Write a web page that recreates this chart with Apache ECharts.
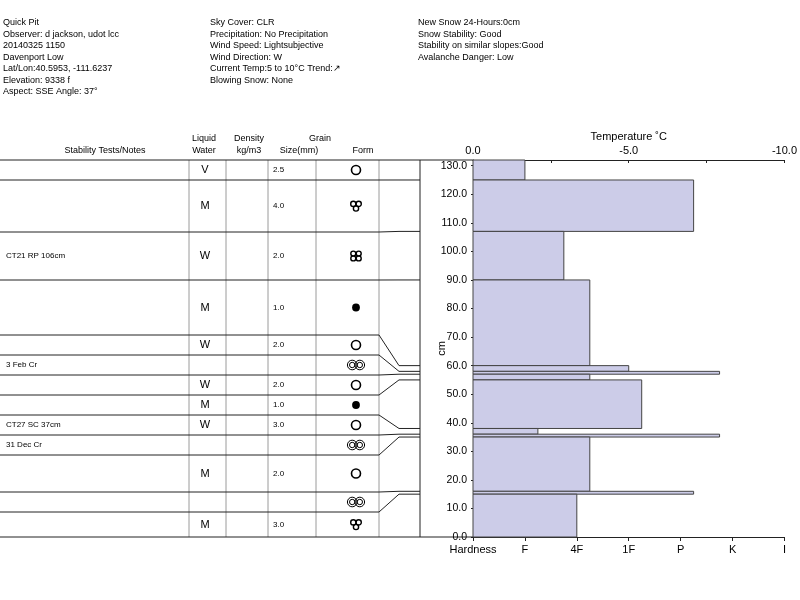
<!DOCTYPE html>
<html><head><meta charset="utf-8">
<script src="https://cdn.jsdelivr.net/npm/echarts@6.0.0/dist/echarts.min.js"></script>
<style>html,body{margin:0;padding:0;background:#fff}#c{width:800px;height:600px}</style>
</head><body><div id="c"></div>
<script>
// ---------- data ----------
const infoCol1 = ['Quick Pit', 'Observer: d jackson, udot lcc', '20140325 1150', 'Davenport Low',
  'Lat/Lon:40.5953, -111.6237', 'Elevation: 9338 f', 'Aspect: SSE Angle: 37°'];
const infoCol2 = ['Sky Cover: CLR', 'Precipitation: No Precipitation', 'Wind Speed: Lightsubjective',
  'Wind Direction: W', 'Current Temp:5 to 10°C Trend:↗', 'Blowing Snow: None'];
const infoCol3 = ['New Snow 24-Hours:0cm', 'Snow Stability: Good', 'Stability on similar slopes:Good',
  'Avalanche Danger: Low'];

const pitDepth = 132;
const layerTop    = [132, 125, 107, 90, 60, 58, 57, 55, 38, 36, 35, 16, 15];
const layerBottom = [125, 107, 90, 60, 58, 57, 55, 38, 36, 35, 16, 15, 0];
const hardness    = [1, 4.25, 1.75, 2.25, 3, 4.75, 2.25, 3.25, 1.25, 4.75, 2.25, 4.25, 2];
const hardnessLabels = ['Hardness', 'F', '4F', '1F', 'P', 'K', 'I'];
const depthTicks = [0, 10, 20, 30, 40, 50, 60, 70, 80, 90, 100, 110, 120, 130];
const tempMin = -10, tempMax = 0, tempStep = 2.5;

const notes       = ['', '', 'CT21 RP 106cm', '', '', '3 Feb Cr', '', '', 'CT27 SC 37cm', '31 Dec Cr', '', '', ''];
const liquidWater = ['V', 'M', 'W', 'M', 'W', '', 'W', 'M', 'W', '', 'M', '', 'M'];
const grainSize   = ['2.5', '4.0', '2.0', '1.0', '2.0', '', '2.0', '1.0', '3.0', '', '2.0', '', '3.0'];
const grainForm   = ['MF', 'MFcl', 'MFcl4', 'RG', 'MF', 'MFcr', 'MF', 'RG', 'MF', 'MFcr', 'MF', 'MFcr', 'MFcl'];

// ---------- layout ----------
const FONT = '"Liberation Sans", Arial, Helvetica, sans-serif';
const rowY = [160, 180, 232, 280, 335, 355, 375, 395, 415, 435, 455, 492, 512, 537];
const colX = [189, 226, 268, 316];
const formColRight = 379, connMid = 399, boxLeft = 420;
const plotLeft = 473;

const chart = echarts.init(document.getElementById('c'));

const layerData = layerTop.map((t, i) => [t, layerBottom[i], hardness[i]]);

chart.setOption({
  animation: false,
  textStyle: { fontFamily: FONT },
  grid: { left: plotLeft, right: 12, top: 160, bottom: 63, containLabel: false },
  xAxis: [
    {
      type: 'value', position: 'bottom', min: 0, max: hardnessLabels.length - 1, interval: 1,
      axisLine: { show: true, onZero: false, lineStyle: { color: '#222', width: 1 } },
      axisTick: { show: true, length: 4, lineStyle: { color: '#222' } },
      axisLabel: { margin: 7, color: '#000', fontSize: 11, fontFamily: FONT,
        formatter: v => hardnessLabels[Math.round(v)] },
      splitLine: { show: false }
    },
    {
      type: 'value', position: 'top', min: tempMin, max: tempMax, interval: tempStep, inverse: true,
      name: 'Temperature ˚C', nameLocation: 'middle', nameGap: 18, nameMoveOverlap: false,
      nameTextStyle: { color: '#000', fontSize: 11, fontFamily: FONT },
      axisLine: { show: true, onZero: false, lineStyle: { color: '#222', width: 1 } },
      axisTick: { show: true, inside: true, length: 3, lineStyle: { color: '#222' } },
      axisLabel: { margin: 4, color: '#000', fontSize: 11, fontFamily: FONT,
        formatter: v => (Math.abs(v % 5) < 1e-9 ? v.toFixed(1) : '') },
      splitLine: { show: false }
    }
  ],
  yAxis: [
    {
      type: 'value', min: 0, max: pitDepth,
      name: 'cm', nameLocation: 'middle', nameGap: 26, nameRotate: 90, nameMoveOverlap: false,
      nameTextStyle: { color: '#000', fontSize: 11, fontFamily: FONT },
      axisLine: { show: true, onZero: false, lineStyle: { color: '#222', width: 1 } },
      axisTick: { show: true, length: 2, customValues: depthTicks, lineStyle: { color: '#222' } },
      axisLabel: { margin: 6, color: '#000', fontSize: 10.5, fontFamily: FONT, customValues: depthTicks,
        formatter: v => v.toFixed(1) },
      splitLine: { show: false }
    },
    {
      type: 'value', min: 0, max: pitDepth, position: 'left',
      axisLine: { show: false, onZero: false },
      axisTick: { show: true, inside: true, length: 2, customValues: depthTicks, lineStyle: { color: '#222' } },
      axisLabel: { show: false },
      splitLine: { show: false }
    }
  ],
  series: [{
    type: 'custom',
    xAxisIndex: 0, yAxisIndex: 0,
    encode: { x: 2, y: [0, 1] },
    data: layerData,
    renderItem: function (params, api) {
      const p1 = api.coord([0, api.value(0)]);
      const p2 = api.coord([api.value(2), api.value(1)]);
      return {
        type: 'rect',
        shape: { x: p1[0], y: p1[1], width: p2[0] - p1[0], height: p2[1] - p1[1] },
        style: { fill: '#cccce8', stroke: '#444', lineWidth: 1 }
      };
    }
  }]
});

// ---------- table + header graphics ----------
function txt(text, x, y, size, align) {
  return { type: 'text', silent: true,
    style: { text: text, x: x, y: y, fill: '#000', font: size + 'px ' + FONT,
      textAlign: align || 'left', textVerticalAlign: 'middle' } };
}
function line(pts, color, w) {
  return { type: 'polyline', silent: true, shape: { points: pts },
    style: { stroke: color, lineWidth: w || 1, fill: null } };
}
function circ(cx, cy, r, fill, stroke, lw) {
  return { type: 'circle', silent: true, shape: { cx: cx, cy: cy, r: r },
    style: { fill: fill || 'none', stroke: stroke || null, lineWidth: lw || 1 } };
}
function formSymbol(code, cx, cy) {
  switch (code) {
    case 'MF': return [circ(cx, cy, 4.5, 'none', '#000', 1.6)];
    case 'RG': return [circ(cx, cy, 3.9, '#000')];
    case 'MFcr': return [
      circ(cx - 3.8, cy, 4.8, 'none', '#000', 1), circ(cx - 3.8, cy, 2.7, 'none', '#000', 1),
      circ(cx + 3.8, cy, 4.8, 'none', '#000', 1), circ(cx + 3.8, cy, 2.7, 'none', '#000', 1)];
    case 'MFcl': return [
      circ(cx - 2.7, cy - 2.1, 2.6, 'none', '#000', 1.4), circ(cx + 2.7, cy - 2.1, 2.6, 'none', '#000', 1.4),
      circ(cx, cy + 2.5, 2.6, 'none', '#000', 1.4)];
    case 'MFcl4': return [
      circ(cx - 2.7, cy - 2.4, 2.5, 'none', '#000', 1.4), circ(cx + 2.7, cy - 2.4, 2.5, 'none', '#000', 1.4),
      circ(cx - 2.7, cy + 2.4, 2.5, 'none', '#000', 1.4), circ(cx + 2.7, cy + 2.4, 2.5, 'none', '#000', 1.4)];
  }
  return [];
}

const g = [];
// header info
infoCol1.forEach((t, i) => g.push(txt(t, 3, 23 + i * 11.5, 9)));
infoCol2.forEach((t, i) => g.push(txt(t, 210, 23 + i * 11.5, 9)));
infoCol3.forEach((t, i) => g.push(txt(t, 418, 23 + i * 11.5, 9)));
// table header
g.push(txt('Stability Tests/Notes', 105, 151, 9, 'center'));
g.push(txt('Liquid', 204, 139, 9, 'center'));
g.push(txt('Water', 204, 151, 9, 'center'));
g.push(txt('Density', 249, 139, 9, 'center'));
g.push(txt('kg/m3', 249, 151, 9, 'center'));
g.push(txt('Grain', 320, 139, 9, 'center'));
g.push(txt('Size(mm)', 299, 151, 9, 'center'));
g.push(txt('Form', 363, 151, 9, 'center'));

// vertical column lines
colX.concat([formColRight]).forEach(x => g.push(line([[x, rowY[0]], [x, rowY[rowY.length - 1]]], '#9a9a9a', 1)));
g.push(line([[boxLeft, rowY[0]], [boxLeft, rowY[rowY.length - 1]]], '#222', 1));
// top and bottom borders
g.push(line([[0, rowY[0]], [plotLeft, rowY[0]]], '#222', 1));
g.push(line([[0, rowY[rowY.length - 1]], [plotLeft, rowY[rowY.length - 1]]], '#222', 1));

// rows: connectors to chart layer boundaries
for (let i = 1; i < layerTop.length; i++) {
  const ty = rowY[i];
  const cy = chart.convertToPixel({ yAxisIndex: 0 }, layerTop[i]);
  g.push(line([[0, ty], [formColRight, ty], [connMid, cy], [boxLeft, cy]], '#222', 1));
}
// row contents
for (let i = 0; i < layerTop.length; i++) {
  const cy = (rowY[i] + rowY[i + 1]) / 2;
  if (notes[i]) g.push(txt(notes[i], 6, cy, 8));
  if (liquidWater[i]) g.push(txt(liquidWater[i], 205, cy, 11, 'center'));
  if (grainSize[i]) g.push(txt(grainSize[i], 273, cy, 8));
  formSymbol(grainForm[i], 356, cy).forEach(e => g.push(e));
}

chart.setOption({ graphic: { elements: g } });
</script>
</body></html>
